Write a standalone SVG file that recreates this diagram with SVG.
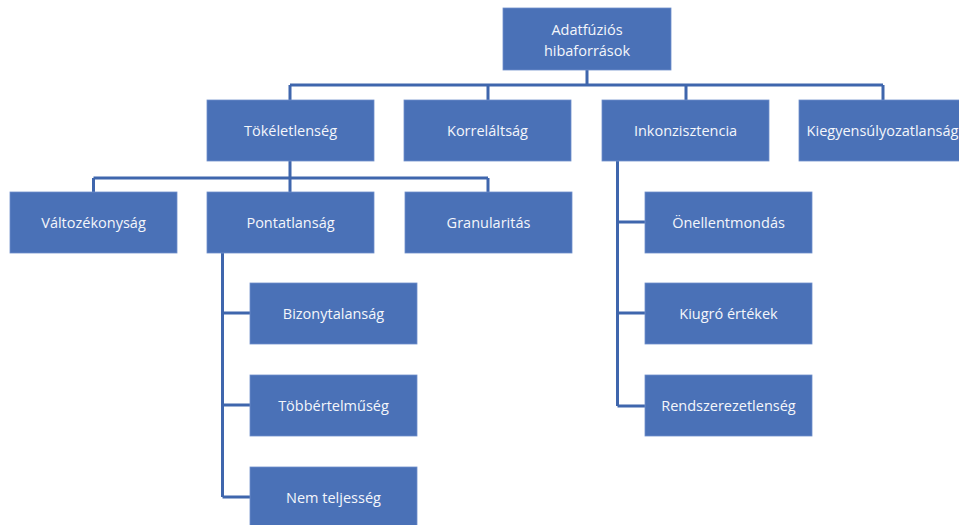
<svg xmlns="http://www.w3.org/2000/svg" width="959" height="525" viewBox="0 0 959 525">
<style>
.box{fill:#4a71b7;stroke:#6f8fca;stroke-width:0.8}
.t{font-family:"Open Sans","Noto Sans",sans-serif;font-size:14.5px;fill:#f4f6fb;text-anchor:middle;dominant-baseline:central}
.c{fill:none;stroke:#3f66ad;stroke-width:3}
</style>
<rect width="959" height="525" fill="#ffffff"/>
<g id="connectors">
<path class="c" d="M587 70V85M290 85H883M290 85V100M488 85V100M686 85V100M883 85V100"/>
<path class="c" d="M290 161V178M93.5 178H488M93.5 178V192M290 178V192M488 178V192"/>
<path class="c" d="M222.5 253V497M222.5 313H250M222.5 405H250M222.5 497H250"/>
<path class="c" d="M617.5 161V406M617.5 222H645M617.5 313H645M617.5 406H645"/>
</g>
<g id="root"><rect class="box" x="503" y="8" width="168" height="62"/><text class="t" x="587" y="29">Adatfúziós</text><text class="t" x="587" y="50">hibaforrások</text></g>
<g id="tokeletlenseg"><rect class="box" x="207" y="100" width="167" height="61"/><text class="t" x="290.5" y="130.5">Tökéletlenség</text></g>
<g id="korrelaltsag"><rect class="box" x="404" y="100" width="167" height="61"/><text class="t" x="487.5" y="130.5">Korreláltság</text></g>
<g id="inkonzisztencia"><rect class="box" x="602" y="100" width="167" height="61"/><text class="t" x="685.5" y="130.5">Inkonzisztencia</text></g>
<g id="kiegyensulyozatlansag"><rect class="box" x="799" y="100" width="167" height="61"/><text class="t" x="882.5" y="130.5">Kiegyensúlyozatlanság</text></g>
<g id="valtozekonysag"><rect class="box" x="10" y="192" width="167" height="61"/><text class="t" x="93.5" y="222.5">Változékonyság</text></g>
<g id="pontatlansag"><rect class="box" x="207" y="192" width="167" height="61"/><text class="t" x="290.5" y="222.5">Pontatlanság</text></g>
<g id="granularitas"><rect class="box" x="405" y="192" width="167" height="61"/><text class="t" x="488.5" y="222.5">Granularitás</text></g>
<g id="bizonytalansag"><rect class="box" x="250" y="283" width="167" height="61"/><text class="t" x="333.5" y="313.5">Bizonytalanság</text></g>
<g id="tobbertelmuseg"><rect class="box" x="250" y="375" width="167" height="61"/><text class="t" x="333.5" y="405.5">Többértelműség</text></g>
<g id="nemteljesseg"><rect class="box" x="250" y="467" width="167" height="61"/><text class="t" x="333.5" y="497.5">Nem teljesség</text></g>
<g id="onellentmondas"><rect class="box" x="645" y="192" width="167" height="61"/><text class="t" x="728.5" y="222.5">Önellentmondás</text></g>
<g id="kiugro"><rect class="box" x="645" y="283" width="167" height="61"/><text class="t" x="728.5" y="313.5">Kiugró értékek</text></g>
<g id="rendszerezetlenseg"><rect class="box" x="645" y="375" width="167" height="61"/><text class="t" x="728.5" y="405.5">Rendszerezetlenség</text></g>
</svg>
